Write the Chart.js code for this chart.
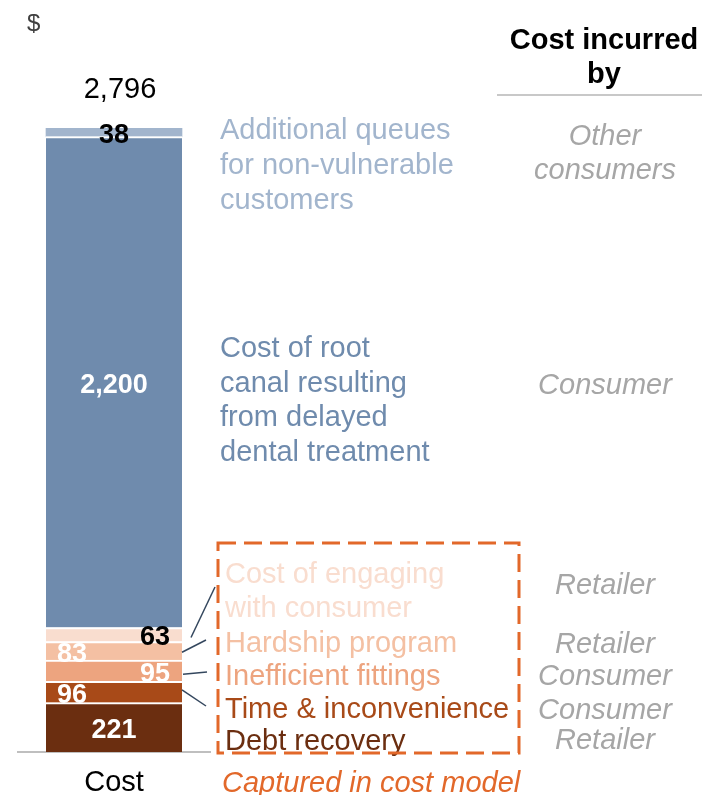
<!DOCTYPE html>
<html>
<head>
<meta charset="utf-8">
<script src="https://cdn.jsdelivr.net/npm/chart.js@4.4.1/dist/chart.umd.min.js"></script>
<style>
  html, body { margin: 0; padding: 0; background: #fff; }
  #wrap { width: 702px; height: 795px; position: relative; }
</style>
</head>
<body>
<div id="wrap"><canvas id="costChart"></canvas></div>
<script>
// bottom-up order of the stack
const categories = ['Cost'];
const segmentLines = [
  ['Debt recovery'],
  ['Time & inconvenience'],
  ['Inefficient fittings'],
  ['Hardship program'],
  ['Cost of engaging', 'with consumer'],
  ['Cost of root', 'canal resulting', 'from delayed', 'dental treatment'],
  ['Additional queues', 'for non-vulnerable', 'customers']
];
const costs = [221, 96, 95, 83, 63, 2200, 38];
const incurredBy = [
  ['Retailer'],
  ['Consumer'],
  ['Consumer'],
  ['Retailer'],
  ['Retailer'],
  ['Consumer'],
  ['Other', 'consumers']
];
const segmentColors = ['#6B2E10', '#A84A18', '#EDA47F', '#F4C0A3', '#F9DDCF', '#6F8BAD', '#A2B5CD'];

const FONT = '"Liberation Sans", Arial, Helvetica, sans-serif';
const total = costs.reduce((a, b) => a + b, 0);

document.addEventListener('DOMContentLoaded', () => {
  const ctx = document.getElementById('costChart').getContext('2d');

  const datasets = costs.map((v, i) => ({
    label: segmentLines[i].join(' '),
    data: [v],
    backgroundColor: segmentColors[i],
    borderColor: '#ffffff',
    borderWidth: i === costs.length - 1 ? 0 : { top: 2, right: 0, bottom: 0, left: 0 },
    borderSkipped: false,
    barThickness: 136
  }));

  // value labels inside the bar: alignment and colour per segment
  const valueAlign = ['center', 'left', 'right', 'left', 'right', 'center', 'center'];
  const valueColor = ['#fff', '#fff', '#fff', '#fff', '#000', '#fff', '#000'];

  // baselines of the text to the right of the bar
  const nameBaselines = [[750], [718], [685], [652], [583, 617], [357, 391.5, 426, 460.5], [139, 174, 209]];
  const whoBaselines = [[749], [719], [685], [653], [594], [394], [145, 179]];

  // leader lines for the thin segments: [segment, dx, dy, endX, endY]
  const leaders = [
    [4, 9, 3, 215, 587],
    [3, 0, 1.5, 206, 640],
    [2, 1, 3.5, 207, 672],
    [1, 0, -2, 206, 706]
  ];

  const annotate = {
    id: 'annotate',
    afterDraw(chart) {
      const c = chart.ctx;
      const bars = costs.map((v, i) => chart.getDatasetMeta(i).data[0]);
      c.save();

      // values inside the bar
      c.font = 'bold 27px ' + FONT;
      bars.forEach((el, i) => {
        const mid = (el.y + el.base) / 2;
        const half = el.width / 2;
        let x = el.x;
        if (valueAlign[i] === 'left') x = el.x - half + 11;
        if (valueAlign[i] === 'right') x = el.x + half - 12;
        c.textAlign = valueAlign[i];
        c.textBaseline = 'alphabetic';
        c.fillStyle = valueColor[i];
        c.fillText(costs[i].toLocaleString('en-US'), x, mid + 11);
      });

      // total on top
      const top = bars[bars.length - 1];
      c.font = '29px ' + FONT;
      c.fillStyle = '#000';
      c.textAlign = 'center';
      c.fillText(total.toLocaleString('en-US'), top.x + 6, top.y - 30);

      // unit
      c.font = '24px ' + FONT;
      c.fillStyle = '#404040';
      c.textAlign = 'left';
      c.fillText('$', 27, 31);

      // leader lines
      c.strokeStyle = '#34475E';
      c.lineWidth = 1.5;
      leaders.forEach(([i, dx, dy, ex, ey]) => {
        const el = bars[i];
        c.beginPath();
        c.moveTo(el.x + el.width / 2 + dx, (el.y + el.base) / 2 + dy);
        c.lineTo(ex, ey);
        c.stroke();
      });

      // segment names
      c.font = '29px ' + FONT;
      c.textAlign = 'left';
      segmentLines.forEach((lines, i) => {
        c.fillStyle = segmentColors[i];
        const x = i <= 4 ? 225 : 220;
        lines.forEach((t, k) => c.fillText(t, x, nameBaselines[i][k]));
      });

      // who pays column
      c.font = 'bold 29px ' + FONT;
      c.fillStyle = '#000';
      c.textAlign = 'center';
      c.fillText('Cost incurred', 604, 49);
      c.fillText('by', 604, 83);
      c.strokeStyle = '#C8C8C8';
      c.lineWidth = 2;
      c.beginPath();
      c.moveTo(497, 95);
      c.lineTo(702, 95);
      c.stroke();

      c.font = 'italic 29px ' + FONT;
      c.fillStyle = '#A6A6A6';
      incurredBy.forEach((lines, i) => {
        lines.forEach((t, k) => c.fillText(t, 605, whoBaselines[i][k]));
      });

      // dashed box around the modelled costs
      c.strokeStyle = '#E2682A';
      c.lineWidth = 3;
      c.setLineDash([18, 8]);
      c.strokeRect(218, 543, 301, 210);
      c.setLineDash([]);

      c.font = 'italic 29px ' + FONT;
      c.fillStyle = '#E2682A';
      c.textAlign = 'left';
      c.fillText('Captured in cost model', 222, 792);

      c.restore();
    }
  };

  new Chart(ctx, {
    type: 'bar',
    data: { labels: categories, datasets: datasets },
    options: {
      responsive: true,
      maintainAspectRatio: false,
      animation: false,
      layout: { padding: { left: 18, right: 492, top: 128, bottom: -18 } },
      plugins: {
        legend: { display: false },
        tooltip: { enabled: false }
      },
      scales: {
        x: {
          stacked: true,
          grid: { display: false, drawTicks: false },
          border: { display: true, color: '#BFBFBF', width: 2 },
          ticks: {
            color: '#000',
            padding: 16,
            font: { family: FONT, size: 29, lineHeight: 1 }
          }
        },
        y: {
          stacked: true,
          display: false,
          min: 0,
          max: total
        }
      }
    },
    plugins: [annotate]
  });
});
</script>
</body>
</html>
